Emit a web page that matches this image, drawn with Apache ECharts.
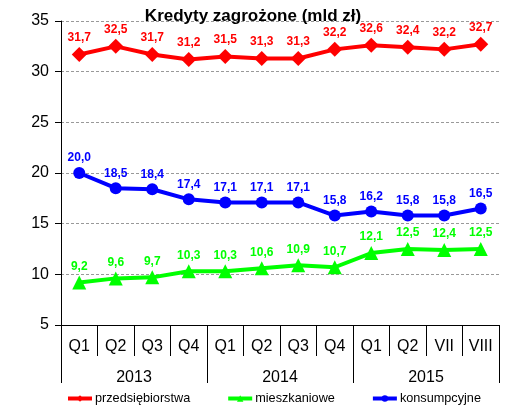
<!DOCTYPE html>
<html>
<head>
<meta charset="utf-8">
<script src="https://cdn.jsdelivr.net/npm/echarts@6/dist/echarts.min.js"></script>
<style>
  html, body { margin: 0; padding: 0; background: #fff; }
  #chart { width: 506px; height: 415px; }
</style>
</head>
<body>
<div id="chart"></div>
<script>
// data
const categories = ['Q1', 'Q2', 'Q3', 'Q4', 'Q1', 'Q2', 'Q3', 'Q4', 'Q1', 'Q2', 'VII', 'VIII'];
const years = ['2013', '2014', '2015'];
const przedsiebiorstwa = [31.7, 32.5, 31.7, 31.2, 31.5, 31.3, 31.3, 32.2, 32.6, 32.4, 32.2, 32.7];
const mieszkaniowe = [9.2, 9.6, 9.7, 10.3, 10.3, 10.6, 10.9, 10.7, 12.1, 12.5, 12.4, 12.5];
const konsumpcyjne = [20.0, 18.5, 18.4, 17.4, 17.1, 17.1, 17.1, 15.8, 16.2, 15.8, 15.8, 16.5];

const font = 'Liberation Sans, Arial, sans-serif';

function lineSeries(name, data, color, symbol, size) {
  return {
    name: name,
    type: 'line',
    data: data,
    symbol: symbol,
    symbolSize: size,
    color: color,
    lineStyle: { width: 4, color: color },
    itemStyle: { color: color },
    label: {
      show: true,
      position: 'top',
      distance: 3,
      color: color,
      fontFamily: font,
      fontWeight: 'bold',
      fontSize: 12,
      formatter: p => p.value.toFixed(1).replace('.', ',')
    },
    animation: false
  };
}

const chart = echarts.init(document.getElementById('chart'));
chart.setOption({
  animation: false,
  title: {
    text: 'Kredyty zagrożone (mld zł)',
    left: 'center',
    top: 3,
    textStyle: { fontFamily: font, fontWeight: 'bold', fontSize: 17, color: '#000' }
  },
  grid: { left: 61, right: 7, top: 21, bottom: 90 },
  legend: {
    bottom: 5,
    left: 61,
    width: 445,
    padding: [5, 0, 5, 5],
    itemGap: 36,
    itemWidth: 24,
    itemHeight: 8,
    lineStyle: { width: 4 },
    textStyle: { fontFamily: font, fontSize: 12.7, color: '#000', padding: [0, 0, 0, -2] },
    data: ['przedsiębiorstwa', 'mieszkaniowe', 'konsumpcyjne']
  },
  xAxis: [
    {
      type: 'category',
      data: categories,
      boundaryGap: true,
      axisLine: { lineStyle: { color: '#000', width: 1 } },
      axisTick: { show: true, length: 31, lineStyle: { color: '#000' } },
      axisLabel: { margin: 14, fontFamily: font, fontSize: 16, color: '#000' }
    },
    {
      type: 'category',
      data: years,
      position: 'bottom',
      boundaryGap: true,
      axisLine: { show: false },
      axisTick: { show: true, length: 58, lineStyle: { color: '#000' } },
      axisLabel: { margin: 45, fontFamily: font, fontSize: 16, color: '#000' }
    }
  ],
  yAxis: {
    type: 'value',
    min: 5,
    max: 35,
    interval: 5,
    axisLine: { show: true, lineStyle: { color: '#000' } },
    axisTick: { show: true, length: 6, lineStyle: { color: '#000' } },
    axisLabel: { margin: 12, fontFamily: font, fontSize: 16, color: '#000' },
    splitLine: { show: true, lineStyle: { color: '#999', type: [3, 2], width: 1 } }
  },
  series: [
    lineSeries('przedsiębiorstwa', przedsiebiorstwa, '#ff0000', 'diamond', 15),
    lineSeries('mieszkaniowe', mieszkaniowe, '#00ff00', 'triangle', 14),
    lineSeries('konsumpcyjne', konsumpcyjne, '#0000ff', 'circle', 12)
  ]
});
</script>
</body>
</html>
